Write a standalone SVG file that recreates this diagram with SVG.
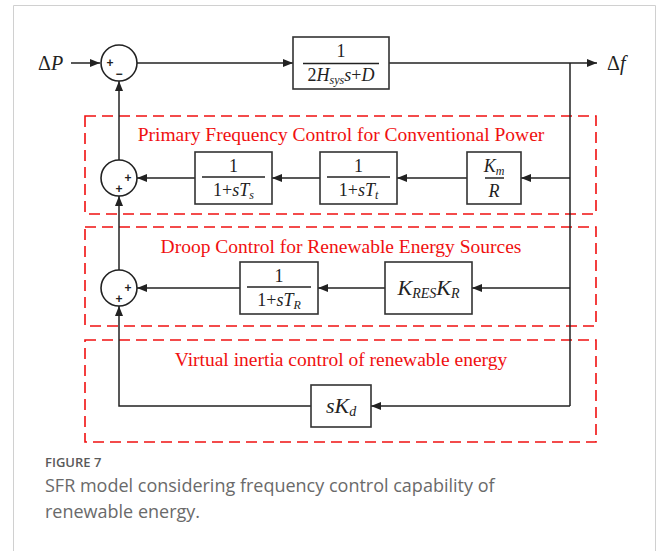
<svg xmlns="http://www.w3.org/2000/svg" width="656" height="551" viewBox="0 0 656 551">
<style>
.ln{fill:none;stroke:#222;stroke-width:1.5}
.bx{fill:#fff;stroke:#333;stroke-width:1.6}
.sum{fill:#fff;stroke:#222;stroke-width:1.6}
.dash{fill:none;stroke:#f01010;stroke-width:1.6;stroke-dasharray:11 6}
.t{font-family:"Liberation Serif","Times New Roman",serif;fill:#222;font-size:18px}
.i{font-style:italic}
.sub{font-size:12px;font-style:italic}
.title{font-family:"Liberation Serif","Times New Roman",serif;fill:#f01010;font-size:19.5px;text-anchor:middle}
.sg{font-family:"Liberation Sans",Arial,sans-serif;font-weight:bold;font-size:12px;fill:#222;text-anchor:middle}
.cap{font-family:"Open Sans","Noto Sans",sans-serif;fill:#6a6a6a}
</style>
<defs>
<marker id="ah" viewBox="0 0 10 8" refX="10" refY="4" markerWidth="10" markerHeight="8" markerUnits="userSpaceOnUse" orient="auto">
<path d="M0,0 L10,4 L0,8 Z" fill="#222"/>
</marker>
</defs>
<rect width="656" height="551" fill="#fff"/>
<path d="M13.5,551 V5.5 H655.5 V551" fill="none" stroke="#d0d0d0" stroke-width="1"/>

<g id="groups">
<rect class="dash" x="85" y="116" width="511" height="98"/>
<rect class="dash" x="85" y="227" width="511" height="99"/>
<rect class="dash" x="85" y="340" width="511" height="102"/>
<text class="title" x="341" y="141">Primary Frequency Control for Conventional Power</text>
<text class="title" x="341" y="253">Droop Control for Renewable Energy Sources</text>
<text class="title" x="341" y="366">Virtual inertia control of renewable energy</text>
</g>

<g id="connectors">
<path class="ln" d="M71,63 H100" marker-end="url(#ah)"/>
<path class="ln" d="M137,63 H293" marker-end="url(#ah)"/>
<path class="ln" d="M389,63 H597" marker-end="url(#ah)"/>
<path class="ln" d="M570,63 V406"/>
<path class="ln" d="M570,178 H521" marker-end="url(#ah)"/>
<path class="ln" d="M467,178 H397" marker-end="url(#ah)"/>
<path class="ln" d="M320,178 H272" marker-end="url(#ah)"/>
<path class="ln" d="M195,178 H137" marker-end="url(#ah)"/>
<path class="ln" d="M570,288 H472" marker-end="url(#ah)"/>
<path class="ln" d="M385,288 H318" marker-end="url(#ah)"/>
<path class="ln" d="M240,288 H137" marker-end="url(#ah)"/>
<path class="ln" d="M570,406 H371" marker-end="url(#ah)"/>
<path class="ln" d="M311,406 H119 V306" marker-end="url(#ah)"/>
<path class="ln" d="M119,270 V196" marker-end="url(#ah)"/>
<path class="ln" d="M119,160 V81" marker-end="url(#ah)"/>
</g>

<g id="in-dP"><text class="t" x="38" y="70" style="font-size:20px">Δ<tspan class="i">P</tspan></text></g>
<g id="out-df"><text class="t" x="607" y="70" style="font-size:20px">Δ<tspan class="i">f</tspan></text></g>

<g id="sum1">
<circle class="sum" cx="119" cy="63" r="18"/>
<text class="sg" x="110" y="67">+</text>
<text class="sg" x="119" y="78">−</text>
</g>
<g id="sum2">
<circle class="sum" cx="119" cy="178" r="18"/>
<text class="sg" x="128" y="182">+</text>
<text class="sg" x="119" y="193">+</text>
</g>
<g id="sum3">
<circle class="sum" cx="119" cy="288" r="18"/>
<text class="sg" x="128" y="292">+</text>
<text class="sg" x="119" y="303">+</text>
</g>

<g id="plant">
<rect class="bx" x="293" y="37" width="96" height="52"/>
<text class="t" x="341" y="57" text-anchor="middle">1</text>
<path class="ln" d="M303,63.5 H379"/>
<text class="t" x="341" y="81" text-anchor="middle">2<tspan class="i">H</tspan><tspan class="sub" dy="3">sys</tspan><tspan class="i" dy="-3">s</tspan>+<tspan class="i">D</tspan></text>
</g>

<g id="Ts">
<rect class="bx" x="195" y="152" width="77" height="52"/>
<text class="t" x="233.5" y="172" text-anchor="middle">1</text>
<path class="ln" d="M202,177 H265"/>
<text class="t" x="233.5" y="196" text-anchor="middle">1+<tspan class="i">sT</tspan><tspan class="sub" dy="3">s</tspan></text>
</g>
<g id="Tt">
<rect class="bx" x="320" y="152" width="77" height="52"/>
<text class="t" x="358.5" y="172" text-anchor="middle">1</text>
<path class="ln" d="M327,177 H390"/>
<text class="t" x="358.5" y="196" text-anchor="middle">1+<tspan class="i">sT</tspan><tspan class="sub" dy="3">t</tspan></text>
</g>
<g id="KmR">
<rect class="bx" x="467" y="152" width="54" height="52"/>
<text class="t i" x="494" y="172" text-anchor="middle">K<tspan class="sub" dy="3">m</tspan></text>
<path class="ln" d="M485,178 H504"/>
<text class="t i" x="494" y="197" text-anchor="middle">R</text>
</g>

<g id="TR">
<rect class="bx" x="240" y="262" width="78" height="52"/>
<text class="t" x="279" y="282" text-anchor="middle">1</text>
<path class="ln" d="M247,287 H311"/>
<text class="t" x="279" y="306" text-anchor="middle">1+<tspan class="i">sT</tspan><tspan class="sub" dy="3">R</tspan></text>
</g>
<g id="KRES">
<rect class="bx" x="385" y="262" width="87" height="52"/>
<text class="t i" x="428.5" y="295" text-anchor="middle" style="font-size:22px">K<tspan style="font-size:14px" dy="3">RES</tspan><tspan dy="-3">K</tspan><tspan style="font-size:14px" dy="3">R</tspan></text>
</g>

<g id="Kd">
<rect class="bx" x="311" y="385" width="60" height="42"/>
<text class="t i" x="341" y="413" text-anchor="middle" style="font-size:22px">sK<tspan style="font-size:14px" dy="3">d</tspan></text>
</g>

<g id="caption">
<text class="cap" x="45" y="467" style="font-size:13px;font-weight:600;fill:#5a5a5a">FIGURE 7</text>
<text class="cap" x="45" y="492" style="font-size:18px">SFR model considering frequency control capability of</text>
<text class="cap" x="45" y="518" style="font-size:18px">renewable energy.</text>
</g>
</svg>
